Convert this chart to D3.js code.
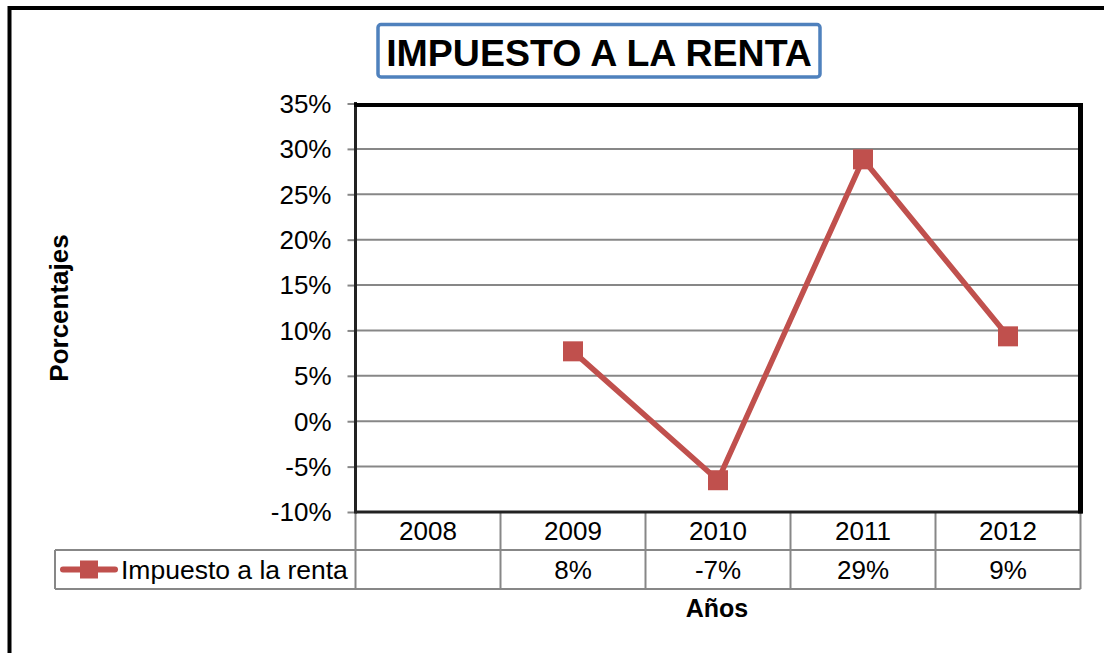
<!DOCTYPE html>
<html>
<head>
<meta charset="utf-8">
<script src="https://cdn.jsdelivr.net/npm/d3@7"></script>
<style>
  body { margin: 0; background: #fff; }
  svg { display: block; font-family: "Liberation Sans", Arial, sans-serif; }
</style>
</head>
<body>
<svg id="chart" width="1104" height="653"></svg>
<script>
// chart data
const years = ["2008", "2009", "2010", "2011", "2012"];
const values = [null, 0.077, -0.065, 0.2885, 0.0935];
const tableLabels = ["", "8%", "-7%", "29%", "9%"];
const yTicks = [-0.10, -0.05, 0, 0.05, 0.10, 0.15, 0.20, 0.25, 0.30, 0.35];
const seriesName = "Impuesto a la renta";
const title = "IMPUESTO A LA RENTA";

const red = "#C0504D";
const grid = "#878787";

const svg = d3.select("#chart");

const plotLeft = 355.5, plotRight = 1080.5, plotTop = 103.5, plotBottom = 512;
const row1 = 550, row2 = 589, legendLeft = 55;

const x = d3.scaleBand().domain(years).range([plotLeft, plotRight]);
const y = d3.scaleLinear().domain([-0.10, 0.35]).range([plotBottom, plotTop]);

// outer chart border (only left and top are inside the picture)
svg.append("rect")
    .attr("x", 9.5).attr("y", 8)
    .attr("width", 1200).attr("height", 800)
    .attr("fill", "none")
    .attr("stroke", "#000")
    .attr("stroke-width", 4);

// title box
svg.append("rect")
    .attr("x", 378).attr("y", 24.5)
    .attr("width", 442).attr("height", 52.5)
    .attr("rx", 3)
    .attr("fill", "#fff")
    .attr("stroke", "#4F81BD")
    .attr("stroke-width", 3.5);

svg.append("text")
    .attr("x", 599).attr("y", 65.5)
    .attr("text-anchor", "middle")
    .attr("font-size", 37.5)
    .attr("font-weight", "bold")
    .text(title);

// gridlines
svg.append("g")
    .selectAll("line")
    .data(yTicks.filter(t => t > -0.10 && t < 0.35))
    .join("line")
    .attr("x1", plotLeft).attr("x2", plotRight)
    .attr("y1", d => y(d)).attr("y2", d => y(d))
    .attr("stroke", grid)
    .attr("stroke-width", 2);

// y axis with tick labels
const yAxis = d3.axisLeft(y)
    .tickValues(yTicks)
    .tickFormat(d => Math.round(d * 100) + "%")
    .tickSize(8)
    .tickPadding(16);

const yg = svg.append("g")
    .attr("transform", `translate(${plotLeft},0)`)
    .call(yAxis);
yg.select(".domain").remove();
yg.selectAll(".tick line").attr("stroke", grid).attr("stroke-width", 2);
yg.selectAll(".tick text")
    .attr("font-size", 26)
    .attr("font-family", "Liberation Sans, Arial, sans-serif")
    .attr("fill", "#000")
    .attr("dy", "0.34em");

// data table grid
const tbl = svg.append("g")
    .attr("stroke", grid)
    .attr("stroke-width", 2)
    .attr("fill", "none");

tbl.selectAll(".vline")
    .data(years.map(d => x(d)).concat([plotRight]))
    .join("line")
    .attr("x1", d => d).attr("x2", d => d)
    .attr("y1", plotBottom).attr("y2", row2);

tbl.append("line").attr("x1", legendLeft).attr("x2", plotRight).attr("y1", row1).attr("y2", row1);
tbl.append("line").attr("x1", legendLeft).attr("x2", plotRight).attr("y1", row2).attr("y2", row2);
tbl.append("line").attr("x1", legendLeft).attr("x2", legendLeft).attr("y1", row1).attr("y2", row2);

// year labels
svg.append("g")
    .selectAll("text")
    .data(years)
    .join("text")
    .attr("x", d => x(d) + x.bandwidth() / 2)
    .attr("y", 540)
    .attr("text-anchor", "middle")
    .attr("font-size", 26)
    .text(d => d);

// value labels
svg.append("g")
    .selectAll("text")
    .data(years)
    .join("text")
    .attr("x", d => x(d) + x.bandwidth() / 2)
    .attr("y", 578.5)
    .attr("text-anchor", "middle")
    .attr("font-size", 26)
    .text((d, i) => tableLabels[i]);

// plot frame
svg.append("line")
    .attr("x1", plotLeft).attr("x2", plotLeft)
    .attr("y1", plotTop - 1.5).attr("y2", plotBottom + 1.5)
    .attr("stroke", "#222").attr("stroke-width", 3);
svg.append("line")
    .attr("x1", plotLeft).attr("x2", plotRight + 2)
    .attr("y1", plotBottom).attr("y2", plotBottom)
    .attr("stroke", "#222").attr("stroke-width", 3);
svg.append("line")
    .attr("x1", plotLeft - 1.5).attr("x2", plotRight + 2)
    .attr("y1", plotTop + 1.5).attr("y2", plotTop + 1.5)
    .attr("stroke", "#000").attr("stroke-width", 4);
svg.append("line")
    .attr("x1", plotRight).attr("x2", plotRight)
    .attr("y1", plotTop - 0.5).attr("y2", plotBottom + 1.5)
    .attr("stroke", "#000").attr("stroke-width", 5);

// series line
const pts = years.map((d, i) => ({ year: d, v: values[i] })).filter(d => d.v !== null);

const line = d3.line()
    .x(d => x(d.year) + x.bandwidth() / 2)
    .y(d => y(d.v));

svg.append("path")
    .datum(pts)
    .attr("d", line)
    .attr("fill", "none")
    .attr("stroke", red)
    .attr("stroke-width", 5.5)
    .attr("stroke-linejoin", "round");

svg.append("g")
    .selectAll("rect")
    .data(pts)
    .join("rect")
    .attr("x", d => x(d.year) + x.bandwidth() / 2 - 10)
    .attr("y", d => y(d.v) - 10)
    .attr("width", 20)
    .attr("height", 20)
    .attr("fill", red);

// legend key in table
svg.append("line")
    .attr("x1", 63).attr("x2", 115)
    .attr("y1", 569.5).attr("y2", 569.5)
    .attr("stroke", red)
    .attr("stroke-width", 6)
    .attr("stroke-linecap", "round");
svg.append("rect")
    .attr("x", 80).attr("y", 560.5)
    .attr("width", 18).attr("height", 18)
    .attr("fill", red);
svg.append("text")
    .attr("x", 121).attr("y", 578.5)
    .attr("font-size", 26.5)
    .text(seriesName);

// axis titles
svg.append("text")
    .attr("x", 717).attr("y", 617)
    .attr("text-anchor", "middle")
    .attr("font-size", 25)
    .attr("font-weight", "bold")
    .text("Años");

svg.append("text")
    .attr("transform", "translate(68,308) rotate(-90)")
    .attr("text-anchor", "middle")
    .attr("font-size", 26)
    .attr("font-weight", "bold")
    .text("Porcentajes");
</script>
</body>
</html>
